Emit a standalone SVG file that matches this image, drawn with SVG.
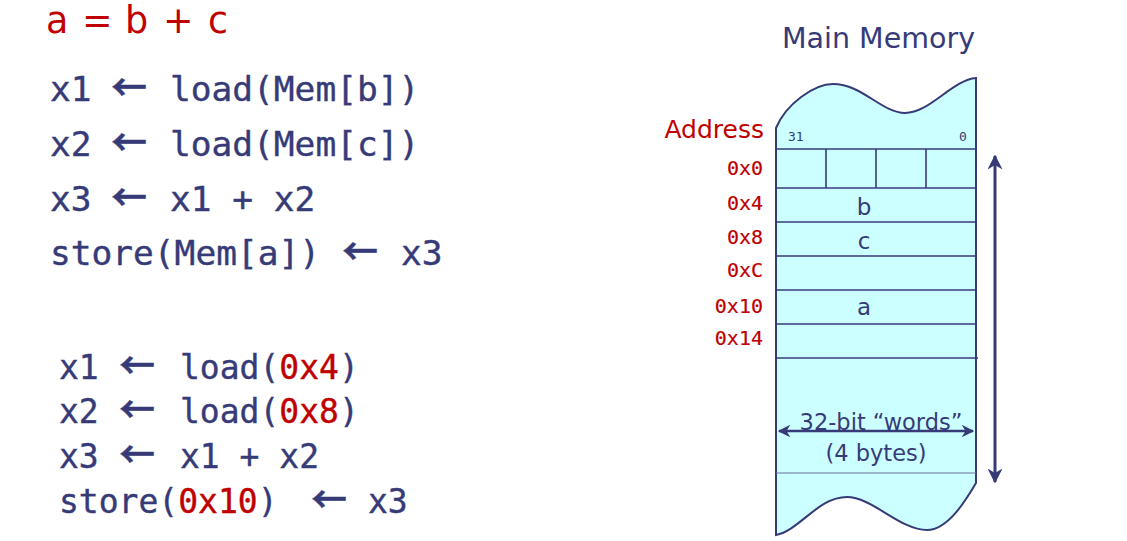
<svg xmlns="http://www.w3.org/2000/svg" width="1127" height="541" viewBox="0 0 1127 541">
<style>
.code{font-family:"DejaVu Sans Mono","Liberation Mono",monospace;fill:#363b78;stroke:#363b78;stroke-width:0.4}
.r{fill:#c00000;stroke:#c00000}
.arr{font-family:"Noto Sans CJK SC","DejaVu Sans",sans-serif;font-size:36px;font-weight:bold}
.sans{font-family:"DejaVu Sans","Liberation Sans",sans-serif;fill:#363b78}
.addr{font-family:"DejaVu Sans Mono","Liberation Mono",monospace;fill:#c00000;font-size:20px;text-anchor:end;stroke:#c00000;stroke-width:0.2}
.cell{font-family:"DejaVu Sans","Liberation Sans",sans-serif;fill:#363b78;font-size:23px;text-anchor:middle}
.row{stroke:#363b78;stroke-width:1.6;fill:none}
</style>
<defs>
<marker id="ah" viewBox="0 0 10 10" refX="9" refY="5" markerWidth="5" markerHeight="5" orient="auto-start-reverse">
<path d="M0,0 L10,5 L0,10 L3,5 Z" fill="#363b78"/>
</marker>
</defs>
<rect width="1127" height="541" fill="#ffffff"/>

<g id="equation">
<text y="33" font-family="DejaVu Sans, Liberation Sans, sans-serif" font-size="36.5" fill="#c00000"><tspan x="46">a</tspan><tspan x="82">=</tspan><tspan x="125">b</tspan><tspan x="163">+</tspan><tspan x="208">c</tspan></text>
</g>

<g id="code-symbolic">
<text class="code" font-size="34.5" y="101"><tspan x="50">x1</tspan><tspan x="111" class="arr">←</tspan><tspan x="170">load(Mem[b])</tspan></text>
<text class="code" font-size="34.5" y="156"><tspan x="50">x2</tspan><tspan x="111" class="arr">←</tspan><tspan x="170">load(Mem[c])</tspan></text>
<text class="code" font-size="34.5" y="211"><tspan x="50">x3</tspan><tspan x="111" class="arr">←</tspan><tspan x="170">x1 + x2</tspan></text>
<text class="code" font-size="34.5" y="265"><tspan x="50">store(Mem[a])</tspan><tspan x="342" class="arr">←</tspan><tspan x="401">x3</tspan></text>
</g>

<g id="code-address">
<text class="code" font-size="33" y="379"><tspan x="59">x1</tspan><tspan x="119" class="arr">←</tspan><tspan x="180">load(</tspan><tspan class="r">0x4</tspan><tspan>)</tspan></text>
<text class="code" font-size="33" y="423"><tspan x="59">x2</tspan><tspan x="119" class="arr">←</tspan><tspan x="180">load(</tspan><tspan class="r">0x8</tspan><tspan>)</tspan></text>
<text class="code" font-size="33" y="468"><tspan x="59">x3</tspan><tspan x="119" class="arr">←</tspan><tspan x="180">x1 + x2</tspan></text>
<text class="code" font-size="33" y="513"><tspan x="59">store(</tspan><tspan class="r">0x10</tspan><tspan>)</tspan><tspan x="311" class="arr">←</tspan><tspan x="368">x3</tspan></text>
</g>

<g id="memory">
<text class="sans" x="782" y="48" font-size="28.5">Main Memory</text>
<path d="M776,128 C786,104 814,84 833,84 C862,84 882,113 905,113 C930,113 952,80 976,78 L976,483 C966,500 948,530 927,530 C900,530 872,497 847,497 C818,497 800,530 776,535 Z" fill="#ccffff" stroke="#363b78" stroke-width="2"/>
<line class="row" x1="776" y1="149" x2="976" y2="149"/>
<line class="row" x1="776" y1="188" x2="976" y2="188"/>
<line class="row" x1="776" y1="222" x2="976" y2="222"/>
<line class="row" x1="776" y1="256" x2="976" y2="256"/>
<line class="row" x1="776" y1="290" x2="976" y2="290"/>
<line class="row" x1="776" y1="324" x2="976" y2="324"/>
<line class="row" x1="776" y1="358" x2="978" y2="358"/>
<line x1="776" y1="473" x2="976" y2="473" stroke="#6a6f9a" stroke-width="1"/>
<line class="row" x1="826" y1="149" x2="826" y2="188"/>
<line class="row" x1="876" y1="149" x2="876" y2="188"/>
<line class="row" x1="926" y1="149" x2="926" y2="188"/>
<text class="sans" x="788" y="141" font-size="13" style="font-family:'DejaVu Sans Mono',monospace">31</text>
<text class="sans" x="959" y="141" font-size="13" style="font-family:'DejaVu Sans Mono',monospace">0</text>
<text class="cell" x="864" y="215">b</text>
<text class="cell" x="864" y="249">c</text>
<text class="cell" x="864" y="315">a</text>
<text class="sans" x="881" y="430" font-size="22.5" text-anchor="middle">32-bit “words”</text>
<text class="sans" x="876" y="461" font-size="22.5" text-anchor="middle">(4 bytes)</text>
</g>

<g id="addresses">
<text x="764" y="138" font-family="DejaVu Sans, Liberation Sans, sans-serif" font-size="25" fill="#c00000" text-anchor="end">Address</text>
<text class="addr" x="763" y="175">0x0</text>
<text class="addr" x="763" y="210">0x4</text>
<text class="addr" x="763" y="244">0x8</text>
<text class="addr" x="763" y="277">0xC</text>
<text class="addr" x="763" y="313">0x10</text>
<text class="addr" x="763" y="345">0x14</text>
</g>

<g id="connectors" stroke="#363b78" fill="none">
<line x1="779" y1="431" x2="973" y2="431" stroke-width="2.5" marker-start="url(#ah)" marker-end="url(#ah)"/>
<line x1="995" y1="156" x2="995" y2="482" stroke-width="3" marker-start="url(#ah)" marker-end="url(#ah)"/>
</g>
</svg>
